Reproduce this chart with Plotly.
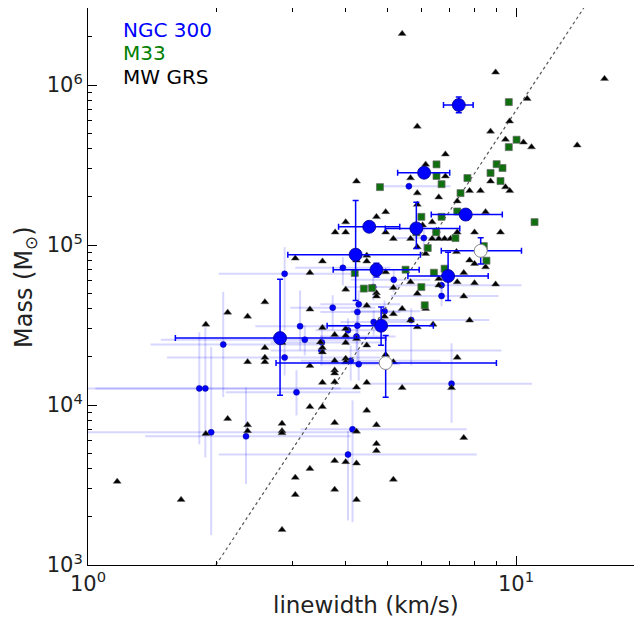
import plotly.graph_objects as go

# ---------------- data ----------------
# MW GRS clouds (black triangles): linewidth (km/s), mass (Msun)
grs_sigma = [5.42, 8.96, 16.1, 10.62, 9.66, 5.88, 8.72, 9.45, 10.41, 10.87, 13.9, 6.84, 6.15,
             4.24, 5.67, 6.84, 8.72, 9.45, 9.67, 7.79, 8.26, 5.88, 6.60, 7.29, 5.88, 4.96, 4.72,
             8.49, 4.00, 3.78, 4.00, 4.96, 5.17, 5.67, 6.05, 6.37, 6.52, 6.37, 6.60, 6.81, 7.03,
             7.29, 8.00, 9.20, 5.88, 6.15, 7.26, 3.53, 4.48, 4.48, 4.96, 7.79, 8.00, 8.49, 7.55,
             5.67, 6.60, 7.29, 8.00, 8.96, 4.00, 4.72, 4.72, 5.88, 7.55, 5.42, 4.48, 5.17, 4.93,
             6.15, 7.79, 3.05, 4.24, 3.30, 2.59, 2.12, 2.36, 3.30, 1.885, 3.53, 2.59, 2.36, 2.59,
             2.59, 2.84, 3.30, 3.53, 3.53, 3.53, 2.12, 1.885, 2.36, 2.36, 2.84, 2.84, 2.84, 3.30,
             3.53, 1.17, 1.65, 3.05, 3.05, 3.30, 2.84, 3.77, 4.00, 4.00, 4.24, 4.48, 3.77, 3.77,
             3.77, 3.77, 4.24, 4.48, 5.67, 5.88, 6.40, 4.00, 3.49, 4.00, 4.00, 4.96, 5.17, 7.29,
             5.42, 7.07, 3.77, 4.48, 4.72, 4.24, 4.72, 4.72, 7.55, 3.77, 4.00, 4.24, 5.17, 3.77,
             4.24, 5.17, 6.60]
grs_mass = [2.09e6, 1.20e6, 1.095e6, 8.21e5, 5.93e5, 5.51e5, 5.13e5, 4.57e5, 4.38e5, 4.09e5,
            4.20e5, 3.69e5, 3.19e5, 2.50e5, 2.62e5, 2.69e5, 2.50e5, 2.30e5, 2.18e5, 2.18e5,
            2.18e5, 2.11e5, 1.99e5, 1.88e5, 1.79e5, 1.61e5, 1.50e5, 1.61e5, 1.39e5, 1.20e5,
            1.20e5, 1.20e5, 1.095e5, 1.095e5, 1.33e5, 1.39e5, 1.23e5, 1.095e5, 1.095e5, 1.095e5,
            1.095e5, 1.20e5, 1.20e5, 1.20e5, 9.71e4, 8.83e4, 9.06e4, 7.91e4, 8.61e4, 7.91e4,
            6.77e4, 8.02e4, 7.64e4, 7.28e4, 6.70e4, 5.87e4, 5.60e4, 5.87e4, 5.78e4, 5.68e4,
            5.28e4, 5.01e4, 4.78e4, 4.97e4, 4.78e4, 4.00e4, 4.18e4, 3.71e4, 3.58e4, 4.00e4,
            3.38e4, 8.25e4, 8.02e4, 6.70e4, 4.40e4, 3.79e4, 3.58e4, 3.96e4, 3.19e4, 3.04e4,
            2.28e4, 1.86e4, 1.98e4, 1.86e4, 2.45e4, 1.76e4, 2.28e4, 2.14e4, 1.38e4, 8210, 6620,
            7510, 6890, 7650, 6890, 6680, 9740, 9740, 3320, 2560, 3520, 2750, 4000, 1660,
            2.75e4, 2.72e4, 3.00e4, 2.59e4, 2.36e4, 1.89e4, 1.65e4, 1.58e4, 1.39e4, 1.29e4,
            1.38e4, 3.38e4, 3.07e4, 3.19e4, 2.45e4, 2.47e4, 1.95e4, 1.86e4, 2.06e4, 1.86e4,
            1.98e4, 1.28e4, 1.28e4, 7750, 9250, 7510, 6840, 5730, 5170, 6250, 4480, 4410, 4320,
            3420, 2960, 2560, 5.41e4, 6.16e4]

# M33 clouds (green squares)
m33_sigma = [9.62, 10.03, 9.62, 6.52, 9.01, 9.30, 8.72, 6.52, 9.20, 7.70, 6.70, 4.81, 7.42,
             7.29, 6.70, 6.01, 11.05, 6.51, 5.85, 7.22, 6.22, 8.41, 8.53, 5.52, 4.20, 6.81,
             6.43, 6.01, 4.41, 6.12, 4.61]
m33_mass = [7.82e5, 4.55e5, 4.09e5, 3.19e5, 3.20e5, 3.03e5, 2.82e5, 2.70e5, 2.51e5, 2.62e5,
            2.40e5, 2.30e5, 2.11e5, 1.62e5, 1.50e5, 1.50e5, 1.39e5, 1.20e5, 1.20e5, 1.105e5,
            9.57e4, 9.85e4, 7.98e4, 7.01e4, 6.68e4, 7.11e4, 6.71e4, 5.46e4, 5.34e4, 4.20e4,
            5.38e4]

# NGC 300 small clouds (light error bars)
ngc_s_sigma = [5.62, 6.09, 3.94, 2.88, 5.18, 6.70, 6.70, 4.64, 4.29, 3.73, 4.26, 4.93, 5.69,
               4.65, 3.13, 4.26, 4.05, 4.24, 3.21, 3.52, 2.07, 3.51, 2.88, 4.11, 4.29, 7.07,
               1.82, 1.88, 3.07, 1.94, 2.34, 4.15, 4.05]
ngc_s_sigma_lo = [4.82, 5.23, 3.05, 2.02, 4.11, 5.23, 5.09, 4.00, 3.49, 2.97, 3.49, 4.11, 4.82,
                  3.89, 2.46, 3.49, 3.40, 3.49, 1.48, 2.67, 1.40, 2.67, 1.53, 3.14, 3.49, 4.57,
                  0.96, 1.04, 2.10, 1.00, 1.36, 3.14, 2.02]
ngc_s_sigma_hi = [7.03, 7.22, 5.09, 4.11, 6.31, 10.3, 9.10, 5.37, 5.37, 4.69, 5.37, 5.98, 8.66,
                  5.67, 4.00, 5.37, 4.82, 5.23, 4.33, 4.82, 3.49, 9.25, 4.82, 6.66, 5.37, 10.9,
                  3.89, 4.33, 4.33, 4.20, 4.11, 7.67, 8.10]
ngc_s_mass = [2.33e5, 1.105e5, 7.2e4, 6.6e4, 6.07e4, 5.6e4, 4.8e4, 5.46e4, 4.26e4, 4.06e4,
              3.81e4, 3.85e4, 3.4e4, 3.3e4, 3.11e4, 3.13e4, 2.93e4, 2.68e4, 2.56e4, 2.46e4,
              2.39e4, 2.19e4, 1.98e4, 1.89e4, 1.80e4, 1.36e4, 1.27e4, 1.27e4, 1.2e4, 6750,
              6370, 7050, 4900]
ngc_s_mass_lo = [2.2e5, 9.25e4, 5.6e4, 2.93e4, 5.06e4, 4.85e4, 4.14e4, 4.5e4, 3.38e4, 2.93e4,
                 1.9e4, 3.15e4, 1.77e4, 2.72e4, 2.19e4, 2.53e4, 2.36e4, 2.19e4, 2.04e4, 1.9e4,
                 1.12e4, 1.77e4, 1.53e4, 1.42e4, 1.42e4, 7750, 5680, 4700, 8600, 1540, 3200,
                 1850, 1900]
ngc_s_mass_hi = [2.45e5, 1.33e5, 8.4e4, 9.7e4, 7.1e4, 6.5e4, 5.6e4, 6.5e4, 5.2e4, 4.85e4,
                 4.5e4, 4.5e4, 4.02e4, 3.9e4, 5.2e4, 3.63e4, 3.48e4, 3.15e4, 3.15e4, 2.93e4,
                 5.1e4, 2.72e4, 2.53e4, 2.36e4, 2.19e4, 2.43e4, 2.85e4, 3.06e4, 1.65e4, 2.3e4,
                 1.29e4, 1.07e4, 6900]

# NGC 300 large clouds (bold error bars)
ngc_b_sigma = [7.35, 6.10, 7.63, 4.54, 5.85, 4.22, 4.72, 6.94, 4.84, 2.81]
ngc_b_sigma_lo = [6.77, 5.29, 6.34, 3.85, 4.95, 2.93, 3.74, 5.59, 3.62, 1.60]
ngc_b_sigma_hi = [7.94, 7.00, 9.29, 5.35, 7.39, 5.98, 5.94, 8.61, 6.41, 4.96]
ngc_b_mass = [7.5e5, 2.83e5, 1.55e5, 1.30e5, 1.27e5, 8.7e4, 7.0e4, 6.4e4, 3.13e4, 2.62e4]
ngc_b_mass_lo = [6.7e5, 2.65e5, 1.45e5, 1.22e5, 9.5e4, 4.5e4, 6.3e4, 4.5e4, 2.36e4, 1.15e4]
ngc_b_mass_hi = [8.4e5, 3.0e5, 1.65e5, 1.38e5, 1.85e5, 1.9e5, 7.7e4, 9.0e4, 4.1e4, 6.1e4]

# NGC 300 open symbols
ngc_o_sigma = [8.27, 4.96]
ngc_o_sigma_lo = [6.69, 2.75]
ngc_o_sigma_hi = [10.3, 9.0]
ngc_o_mass = [9.2e4, 1.83e4]
ngc_o_mass_lo = [7.6e4, 1.12e4]
ngc_o_mass_hi = [1.11e5, 2.72e4]

# dotted reference relation (end points)
ref_sigma = [1.99, 14.4]
ref_mass = [1.0e3, 3.03e6]

x_ticks = [1, 10]
x_ticktext = ["10<sup>0</sup>", "10<sup>1</sup>"]
y_ticks = [1e3, 1e4, 1e5, 1e6]
y_ticktext = ["10<sup>3</sup>", "10<sup>4</sup>", "10<sup>5</sup>", "10<sup>6</sup>"]
minor_x = [2, 3, 4, 5, 6, 7, 8, 9, 20]
minor_y = [m * 10 ** e for e in (3, 4, 5, 6) for m in (2, 3, 4, 5, 6, 7, 8, 9)]


def err(v, lo, hi):
    return dict(type="data", symmetric=False,
                array=[h - c for c, h in zip(v, hi)],
                arrayminus=[c - l for c, l in zip(v, lo)])


FONT = "DejaVu Sans"
# page body adds an 8px margin; size the figure so no scrollbars appear
OFF = 8
W, H = 626, 611
ML, MR, MT, MB = 80, 0, 0, 54
pw = W - ML - MR
ph = H - MT - MB
fig = go.Figure()

# light error bars + small dots
fig.add_trace(go.Scatter(
    x=ngc_s_sigma, y=ngc_s_mass, mode="markers",
    marker=dict(symbol="circle", size=6, color="#0000ff",
                line=dict(color="#00008b", width=0.5)),
    error_x=dict(err(ngc_s_sigma, ngc_s_sigma_lo, ngc_s_sigma_hi),
                 color="rgba(0,0,255,0.16)", thickness=2, width=0),
    error_y=dict(err(ngc_s_mass, ngc_s_mass_lo, ngc_s_mass_hi),
                 color="rgba(0,0,255,0.16)", thickness=2, width=0),
    showlegend=False))

fig.add_trace(go.Scatter(
    x=ref_sigma, y=ref_mass, mode="lines",
    line=dict(color="#555555", width=1.2, dash="dot"), showlegend=False))

fig.add_trace(go.Scatter(
    x=grs_sigma, y=grs_mass, mode="markers",
    marker=dict(symbol="triangle-up", size=7, color="black",
                line=dict(color="#666666", width=0.5)),
    showlegend=False))

fig.add_trace(go.Scatter(
    x=m33_sigma, y=m33_mass, mode="markers",
    marker=dict(symbol="square", size=7, color="#107010",
                line=dict(color="#666666", width=0.7)),
    showlegend=False))

fig.add_trace(go.Scatter(
    x=ngc_o_sigma, y=ngc_o_mass, mode="markers",
    marker=dict(symbol="circle", size=13, color="white",
                line=dict(color="#888888", width=1)),
    error_x=dict(err(ngc_o_sigma, ngc_o_sigma_lo, ngc_o_sigma_hi),
                 color="#0000ff", thickness=1.5, width=3),
    error_y=dict(err(ngc_o_mass, ngc_o_mass_lo, ngc_o_mass_hi),
                 color="#0000ff", thickness=1.5, width=3),
    showlegend=False))

fig.add_trace(go.Scatter(
    x=ngc_b_sigma, y=ngc_b_mass, mode="markers",
    marker=dict(symbol="circle", size=13, color="#0000ff",
                line=dict(color="#00008b", width=0.8)),
    error_x=dict(err(ngc_b_sigma, ngc_b_sigma_lo, ngc_b_sigma_hi),
                 color="#0000ff", thickness=1.5, width=3),
    error_y=dict(err(ngc_b_mass, ngc_b_mass_lo, ngc_b_mass_hi),
                 color="#0000ff", thickness=1.5, width=3),
    showlegend=False))


def px(xs):
    return (xs - OFF - ML) / pw


def py(ys):
    return 1 - (ys - OFF - MT) / ph


labels = [("NGC 300", "#0000ff", 30), ("M33", "#008000", 53), ("MW GRS", "black", 77)]
for txt, col, ys in labels:
    fig.add_annotation(text=txt, xref="paper", yref="paper", x=px(121), y=py(ys),
                       xanchor="left", yanchor="middle", showarrow=False,
                       font=dict(family=FONT, size=20, color=col))

# axis titles as annotations (exact placement)
fig.add_annotation(text="linewidth (km/s)", xref="paper", yref="paper",
                   x=px(366), y=py(605), xanchor="center",
                   yanchor="middle", showarrow=False,
                   font=dict(family=FONT, size=23, color="#222"))
fig.add_annotation(text="Mass (M<sub>⊙</sub>)", xref="paper", yref="paper",
                   x=px(25), y=py(287), xanchor="center",
                   yanchor="middle", showarrow=False, textangle=-90,
                   font=dict(family=FONT, size=24, color="#222"))

axis_common = dict(showline=True, linecolor="black", linewidth=1,
                   ticks="inside", ticklen=9, tickwidth=1, tickcolor="black",
                   showgrid=False, zeroline=False, automargin=False,
                   tickfont=dict(family=FONT, size=21, color="#222"))

fig.update_xaxes(type="log", range=[0, pw / 428], tickvals=x_ticks, ticktext=x_ticktext,
                 mirror="allticks",
                 minor=dict(tickvals=minor_x, ticks="inside", ticklen=4, tickcolor="black",
                            showgrid=False),
                 **axis_common)
fig.update_yaxes(type="log", range=[3, 3 + ph / 160], tickvals=y_ticks, ticktext=y_ticktext,
                 mirror=False,
                 minor=dict(tickvals=minor_y, ticks="inside", ticklen=4, tickcolor="black",
                            showgrid=False),
                 **axis_common)

fig.update_layout(width=W, height=H, margin=dict(l=ML, r=MR, t=MT, b=MB),
                  plot_bgcolor="white", paper_bgcolor="white",
                  font=dict(family=FONT))

fig.write_html("out.html")
